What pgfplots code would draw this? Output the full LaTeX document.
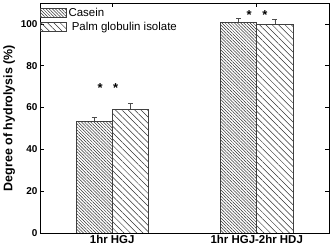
\documentclass[border=0pt]{standalone}
\usepackage{fontspec}
\setmainfont{Liberation Sans}
\usepackage{pgfplots}
\pgfplotsset{compat=1.18}
\usetikzlibrary{patterns.meta}
\begin{document}
\begin{tikzpicture}
\path[use as bounding box] (-40bp,-16bp) rectangle (291bp,233bp);
\begin{axis}[
  at={(0,0)}, anchor=south west,
  scale only axis, width=289bp, height=230bp,
  ybar=0pt, bar width=0.25,
  xmin=-0.5, xmax=1.5, ymin=0, ymax=110,
  xtick={0,1}, xticklabels={1hr HGJ, 1hr HGJ-2hr HDJ},
  ytick={0,20,40,60,80,100},
  tick align=inside, major tick length=4bp,
  tick style={black, line width=0.6pt},
  axis line style={line width=0.6pt},
  yticklabel style={font=\fontsize{10}{11}\selectfont\bfseries, xshift=1bp},
  xticklabel style={font=\fontsize{11.5}{12}\selectfont\bfseries, yshift=1bp},
  /pgf/number format/assume math mode=true,
  ylabel={Degree of hydrolysis (\%)},
  ylabel style={font=\fontsize{12.5}{13}\selectfont\bfseries, yshift=-1bp},
  legend style={at={(0,1)}, anchor=north west, draw=none, fill=none,
    font=\fontsize{11.5}{12}\selectfont, inner sep=0pt, outer sep=0pt,
    row sep=0.5bp, yshift=-3bp, cells={anchor=west}},
  legend image code/.code={\draw[#1] (0bp,-4.5bp) rectangle (26bp,4.5bp);},
  error bars/y dir=plus, error bars/y explicit,
  error bars/error mark options={rotate=90, mark size=2.5bp, line width=0.6pt, draw=black!70},
  error bars/error bar style={line width=0.6pt, draw=black!70},
]
\addplot[draw=black!75, line width=0.6pt, pattern={Lines[angle=-45,distance=2.2bp,line width=0.5bp]}, pattern color=black!80]
  coordinates {(0,53.5) +- (0,1.9) (1,100.7) +- (0,2.1)};
\addlegendentry{Casein}
\addplot[draw=black!75, line width=0.6pt, pattern={Lines[angle=-45,distance=4.5bp,line width=0.5bp]}, pattern color=black!80]
  coordinates {(0,59.2) +- (0,2.8) (1,99.8) +- (0,2.3)};
\addlegendentry{\ Palm globulin isolate}
\node[font=\fontsize{13}{13}\selectfont\bfseries] at (axis cs:-0.083,69.3) {*};
\node[font=\fontsize{13}{13}\selectfont\bfseries] at (axis cs:0.023,69.3) {*};
\node[font=\fontsize{13}{13}\selectfont\bfseries] at (axis cs:0.948,104.1) {*};
\node[font=\fontsize{13}{13}\selectfont\bfseries] at (axis cs:1.057,104.1) {*};
\end{axis}
\end{tikzpicture}
\end{document}
